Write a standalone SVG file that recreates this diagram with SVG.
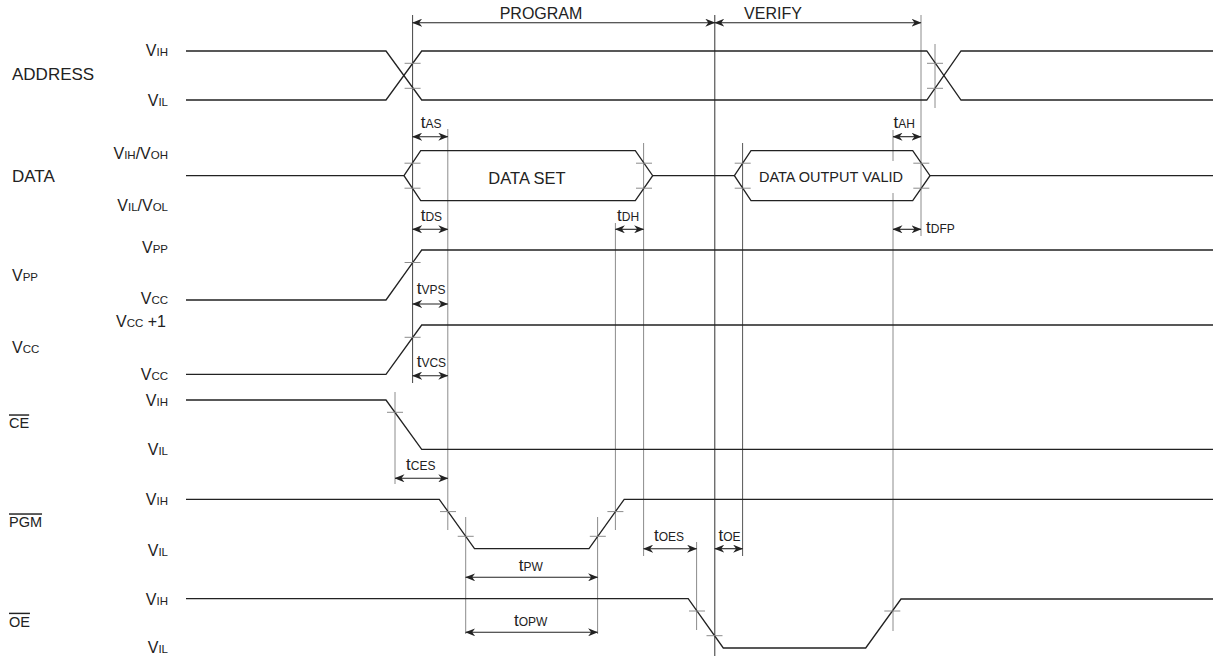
<svg xmlns="http://www.w3.org/2000/svg" width="1213" height="657" viewBox="0 0 1213 657">
<style>
text{font-family:"Liberation Sans",Arial,sans-serif;fill:#222}
.sig{fill:none;stroke:#222;stroke-width:1.3;stroke-linejoin:miter}
.g{stroke:#8c8c8c;stroke-width:1;fill:none}
.gd{stroke:#444;stroke-width:1;fill:none}
.tk{stroke:#8c8c8c;stroke-width:1}
.dim{stroke:#222;stroke-width:1.1;marker-start:url(#ah);marker-end:url(#ah)}
.lv{font-size:16px}
.lv .s{font-size:11.5px}
.tl{font-size:17px}
.tl .s{font-size:12px}
.nm{font-size:17px}
.ov{font-size:14.5px;text-decoration:overline}
.hd{font-size:16px}
</style>
<defs>
<marker id="ah" viewBox="0 0 10 8" refX="9.5" refY="4" markerWidth="10" markerHeight="8" markerUnits="userSpaceOnUse" orient="auto-start-reverse">
<path d="M0,0 L10,4 L0,8 L3,4 Z" fill="#222"/>
</marker>
</defs>

<g id="guides">
<line class="gd" x1="412.6" y1="15" x2="412.6" y2="383"/>
<line class="g" x1="447.8" y1="129" x2="447.8" y2="530"/>
<line x1="714.8" y1="15" x2="714.8" y2="656" stroke="#333" stroke-width="1"/>
<line class="g" x1="921" y1="15" x2="921" y2="236"/>
<line class="g" x1="935" y1="44" x2="935" y2="108"/>
<line class="g" x1="893" y1="130" x2="893" y2="161"/>
<line class="g" x1="893" y1="193" x2="893" y2="631"/>
<line class="g" x1="643.6" y1="143" x2="643.6" y2="556"/>
<line x1="742.6" y1="143" x2="742.6" y2="556" stroke="#555" stroke-width="1"/>
<line class="g" x1="615.4" y1="223" x2="615.4" y2="530"/>
<line class="g" x1="395" y1="392" x2="395" y2="484"/>
<line class="g" x1="465.7" y1="517" x2="465.7" y2="634"/>
<line class="g" x1="597.6" y1="517" x2="597.6" y2="634"/>
<line class="g" x1="696.6" y1="542" x2="696.6" y2="630"/>
</g>

<g id="address">
<text class="nm" x="12" y="80">ADDRESS</text>
<text class="lv" x="168" y="56" text-anchor="end">V<tspan class="s">IH</tspan></text>
<text class="lv" x="168" y="106" text-anchor="end">V<tspan class="s">IL</tspan></text>
<path class="sig" d="M186,51 H386 L421.7,100 H926.8 L961,51 H1213"/>
<path class="sig" d="M186,100 H386 L421.7,51 H926.8 L961,100 H1213"/>
<path class="tk" d="M404.6,63.3 h16 M404.6,88.3 h16 M927,63.3 h16 M927,88.3 h16"/>
</g>

<g id="data">
<text class="nm" x="12" y="182">DATA</text>
<text class="lv" x="168" y="159.3" text-anchor="end">V<tspan class="s">IH</tspan>/V<tspan class="s">OH</tspan></text>
<text class="lv" x="168" y="210.7" text-anchor="end">V<tspan class="s">IL</tspan>/V<tspan class="s">OL</tspan></text>
<path class="sig" d="M186,175.7 H404 M652.7,175.7 H734.4 M930,175.7 H1213"/>
<path class="sig" d="M404,175.7 L420.7,150.7 H635.3 L652.7,175.7 L635.3,200.7 H420.7 Z"/>
<path class="sig" d="M734.4,175.7 L751,150.7 H912.7 L930,175.7 L912.7,200.7 H751 Z"/>
<text x="527" y="184" text-anchor="middle" font-size="16.5">DATA SET</text>
<text x="831" y="182.3" text-anchor="middle" font-size="14.5">DATA OUTPUT VALID</text>
<path class="tk" d="M404.5,163.2 h16 M404.5,188.2 h16 M636,163.2 h16 M636,188.2 h16 M734.7,163.2 h16 M734.7,188.2 h16 M913.3,163.2 h16 M913.3,188.2 h16"/>
</g>

<g id="vpp">
<text class="lv" x="12" y="280.7" font-size="15">V<tspan class="s">PP</tspan></text>
<text class="lv" x="168" y="253.3" text-anchor="end">V<tspan class="s">PP</tspan></text>
<text class="lv" x="168" y="304" text-anchor="end">V<tspan class="s">CC</tspan></text>
<path class="sig" d="M186,300 H386 L421.7,250 H1213"/>
<path class="tk" d="M404.6,262.5 h16"/>
</g>

<g id="vcc">
<text class="lv" x="12" y="353.3">V<tspan class="s">CC</tspan></text>
<text class="lv" x="166" y="327.3" text-anchor="end">V<tspan class="s">CC</tspan> +1</text>
<text class="lv" x="168" y="380" text-anchor="end">V<tspan class="s">CC</tspan></text>
<path class="sig" d="M186,374.3 H386 L421.7,325 H1213"/>
<path class="tk" d="M404.6,337.3 h16"/>
</g>

<g id="ce">
<text class="ov" x="9" y="428.3">CE</text>
<text class="lv" x="168" y="406" text-anchor="end">V<tspan class="s">IH</tspan></text>
<text class="lv" x="168" y="455" text-anchor="end">V<tspan class="s">IL</tspan></text>
<path class="sig" d="M186,400 H386 L421.7,449.3 H1213"/>
<path class="tk" d="M387,412.3 h16"/>
</g>

<g id="pgm">
<text class="ov" x="9" y="527.3">PGM</text>
<text class="lv" x="168" y="505" text-anchor="end">V<tspan class="s">IH</tspan></text>
<text class="lv" x="168" y="556" text-anchor="end">V<tspan class="s">IL</tspan></text>
<path class="sig" d="M186,499.3 H439.3 L474.5,548.7 H589 L624.2,499.3 H1213"/>
<path class="tk" d="M440,511.6 h16 M457.7,536.3 h16 M589.8,536.3 h16 M607.4,511.6 h16"/>
</g>

<g id="oe">
<text class="ov" x="9" y="626.7">OE</text>
<text class="lv" x="168" y="605" text-anchor="end">V<tspan class="s">IH</tspan></text>
<text class="lv" x="168" y="653.3" text-anchor="end">V<tspan class="s">IL</tspan></text>
<path class="sig" d="M186,598.7 H688.2 L723.3,648 H865.7 L901,599 H1213"/>
<path class="tk" d="M689,611 h16 M706.5,635.7 h16 M884.3,611 h16"/>
</g>

<g id="connectors">
<line class="dim" x1="412.6" y1="22.7" x2="714.8" y2="22.7"/>
<line class="dim" x1="714.8" y1="22.7" x2="921" y2="22.7"/>
<line class="dim" x1="412.6" y1="136.7" x2="447.8" y2="136.7"/>
<line class="dim" x1="893" y1="136.7" x2="921" y2="136.7"/>
<line class="dim" x1="412.6" y1="229.3" x2="447.8" y2="229.3"/>
<line class="dim" x1="615.4" y1="229.3" x2="643.6" y2="229.3"/>
<line class="dim" x1="893" y1="229.3" x2="921" y2="229.3"/>
<line class="dim" x1="412.6" y1="304" x2="447.8" y2="304"/>
<line class="dim" x1="412.6" y1="375.7" x2="447.8" y2="375.7"/>
<line class="dim" x1="395" y1="478.3" x2="447.8" y2="478.3"/>
<line class="dim" x1="643.6" y1="548.7" x2="696.6" y2="548.7"/>
<line class="dim" x1="714.8" y1="548.7" x2="742.6" y2="548.7"/>
<line class="dim" x1="465.7" y1="577.3" x2="597.6" y2="577.3"/>
<line class="dim" x1="465.7" y1="632.3" x2="597.6" y2="632.3"/>
</g>

<g id="labels">
<text class="hd" x="541" y="19" text-anchor="middle">PROGRAM</text>
<text class="hd" x="773" y="19" text-anchor="middle">VERIFY</text>
<text class="tl" x="420.7" y="128.3">t<tspan class="s">AS</tspan></text>
<text class="tl" x="893.5" y="128.3">t<tspan class="s">AH</tspan></text>
<text class="tl" x="420.7" y="221">t<tspan class="s">DS</tspan></text>
<text class="tl" x="617" y="221">t<tspan class="s">DH</tspan></text>
<text class="tl" x="926" y="233">t<tspan class="s">DFP</tspan></text>
<text class="tl" x="416.7" y="294">t<tspan class="s">VPS</tspan></text>
<text class="tl" x="416.7" y="366.7">t<tspan class="s">VCS</tspan></text>
<text class="tl" x="406" y="469.5">t<tspan class="s">CES</tspan></text>
<text class="tl" x="654" y="540.7">t<tspan class="s">OES</tspan></text>
<text class="tl" x="718.5" y="540.7">t<tspan class="s">OE</tspan></text>
<text class="tl" x="518.7" y="570.5">t<tspan class="s">PW</tspan></text>
<text class="tl" x="514" y="626">t<tspan class="s">OPW</tspan></text>
</g>
</svg>
